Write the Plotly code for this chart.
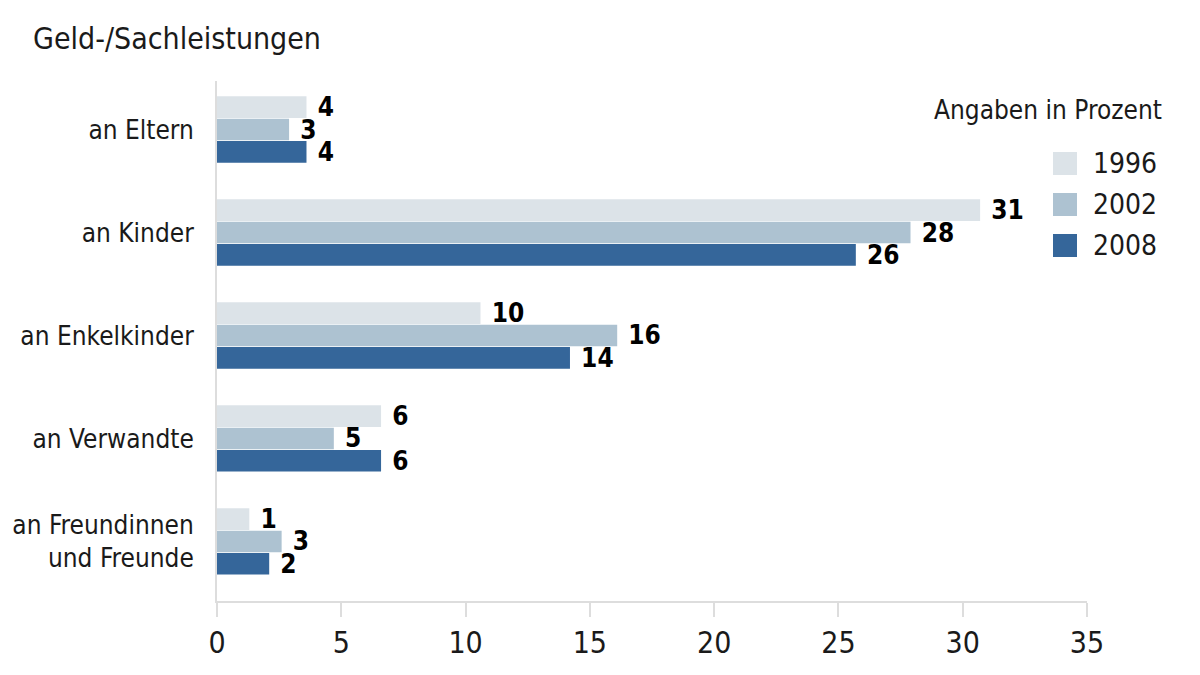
import plotly.graph_objects as go

categories = ["an Eltern", "an Kinder", "an Enkelkinder", "an Verwandte", "an Freundinnen<br>und Freunde"]
years = ["1996", "2002", "2008"]
values_1996 = [3.6, 30.7, 10.6, 6.6, 1.3]
values_2002 = [2.9, 27.9, 16.1, 4.7, 2.6]
values_2008 = [3.6, 25.7, 14.2, 6.6, 2.1]
labels_1996 = ["4", "31", "10", "6", "1"]
labels_2002 = ["3", "28", "16", "5", "3"]
labels_2008 = ["4", "26", "14", "6", "2"]
x_ticks = [0, 5, 10, 15, 20, 25, 30, 35]

colors = ["#dce3e8", "#adc2d1", "#35669a"]
FONT = "DejaVu Sans Condensed, sans-serif"
TXT = "#1a1a1a"

series = [
    (years[0], values_1996, labels_1996, colors[0]),
    (years[1], values_2002, labels_2002, colors[1]),
    (years[2], values_2008, labels_2008, colors[2]),
]

def f(size, color=TXT, weight="normal", family=FONT):
    return dict(family=family, size=size, color=color, weight=weight)

fig = go.Figure()
for name, vals, labs, col in series:
    fig.add_trace(go.Bar(
        y=categories, x=vals, name=name, orientation="h",
        marker=dict(color=col, line=dict(width=0)),
        text=labs, texttemplate="\u00a0%{text}", textposition="outside",
        constraintext="none", cliponaxis=False,
        textfont=f(26, "#000000", "bold"),
        showlegend=False, hoverinfo="skip",
    ))

# the page body adds an 8px offset; plot area given in screenshot pixels
OFF = 8
L, R, T, B = 217 - OFF, 1087 - OFF, 81 - OFF, 601 - OFF
W, H = 1200, 675

def px(xs):
    return (xs - OFF - L) / (R - L)

def py(ys):
    return (B - (ys - OFF)) / (B - T)

shapes = []
annotations = []
legend_tops = [152, 193, 234]
for (name, _, _, col), top in zip(series, legend_tops):
    shapes.append(dict(type="rect", xref="paper", yref="paper",
                       x0=px(1053), x1=px(1077), y0=py(top + 23), y1=py(top),
                       fillcolor=col, line=dict(width=0)))
    annotations.append(dict(xref="paper", yref="paper", x=px(1091), y=py(top + 11.5),
                            text=name, showarrow=False, xanchor="left", yanchor="middle",
                            font=f(28)))

annotations.append(dict(xref="paper", yref="paper", x=px(1164), y=py(110),
                        text="Angaben in Prozent", showarrow=False,
                        xanchor="right", yanchor="middle", font=f(26)))
annotations.append(dict(xref="paper", yref="paper", x=px(31), y=py(38),
                        text="Geld-/Sachleistungen", showarrow=False,
                        xanchor="left", yanchor="middle", font=f(30)))

fig.update_layout(
    width=W, height=H,
    margin=dict(l=L, r=W - R, t=T, b=H - B, autoexpand=False),
    paper_bgcolor="white", plot_bgcolor="white",
    barmode="group", bargap=0.35, bargroupgap=0.03,
    shapes=shapes, annotations=annotations,
    font=f(20),
)
fig.update_xaxes(
    range=[0, 35], tickvals=x_ticks, ticktext=[str(v) for v in x_ticks],
    showgrid=False, zeroline=False, automargin=False,
    showline=True, linecolor="#dddddd", linewidth=2,
    ticks="outside", ticklen=14, tickcolor="#dddddd", tickwidth=2,
    tickfont=f(30), fixedrange=True,
)
fig.update_yaxes(
    categoryorder="array", categoryarray=categories,
    range=[4.578, -0.471],
    showgrid=False, zeroline=False, automargin=False,
    showline=True, linecolor="#dddddd", linewidth=2,
    ticks="", ticklabelstandoff=16,
    tickfont=f(26), fixedrange=True,
)

fig.write_html("out.html")
